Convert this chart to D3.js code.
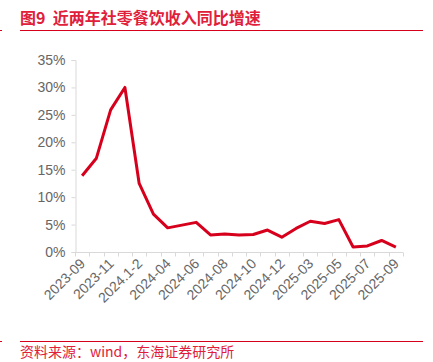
<!DOCTYPE html>
<html>
<head>
<meta charset="utf-8">
<script src="https://cdn.jsdelivr.net/npm/d3@7"></script>
<style>
  body { margin: 0; background: #fff; }
  svg { display: block; font-family: "Liberation Sans", Arial, "Noto Sans CJK SC", sans-serif; }
</style>
</head>
<body>
<div id="container"></div>
<script>
/* CONSTANTS AND GLOBALS */
const width = 433;
const height = 362;

/* DATA */
const months = ["2023-09", "2023-10", "2023-11", "2023-12", "2024.1-2", "2024-03", "2024-04",
  "2024-05", "2024-06", "2024-07", "2024-08", "2024-09", "2024-10", "2024-11", "2024-12",
  "2025.1-2", "2025-03", "2025-04", "2025-05", "2025-06", "2025-07", "2025-08", "2025-09"];
const growth = [13.9, 17.1, 25.9, 30.0, 12.5, 6.9, 4.4, 4.9, 5.4, 3.1, 3.3, 3.1, 3.2,
  4.0, 2.7, 4.3, 5.6, 5.2, 5.9, 0.9, 1.1, 2.1, 0.9];
const yTicks = [0, 5, 10, 15, 20, 25, 30, 35];
const shownLabels = ["2023-09", "2023-11", "2024.1-2", "2024-04", "2024-06", "2024-08",
  "2024-10", "2024-12", "2025-03", "2025-05", "2025-07", "2025-09"];

const red = "#d7001c";
const grey = "#d9d9d9";

const svg = d3.select("#container")
  .append("svg")
  .attr("width", width)
  .attr("height", height);

// title + rules
svg.append("text")
  .attr("x", 20).attr("y", 24)
  .attr("fill", "#e0203a")
  .style("font-size", "16px")
  .style("font-weight", "bold")
  .style("white-space", "pre")
  .style("font-family", "'Noto Sans CJK SC', sans-serif")
  .text("图9  近两年社零餐饮收入同比增速");

svg.append("line")
  .attr("x1", 20).attr("x2", 423).attr("y1", 30.5).attr("y2", 30.5)
  .attr("stroke", red).attr("stroke-width", 1);
svg.append("line")
  .attr("x1", 0).attr("x2", 2).attr("y1", 30.5).attr("y2", 30.5)
  .attr("stroke", red).attr("stroke-width", 1);

svg.append("line")
  .attr("x1", 20).attr("x2", 423).attr("y1", 341.5).attr("y2", 341.5)
  .attr("stroke", red).attr("stroke-width", 1);
svg.append("line")
  .attr("x1", 0).attr("x2", 2).attr("y1", 341.5).attr("y2", 341.5)
  .attr("stroke", red).attr("stroke-width", 1);

svg.append("text")
  .attr("x", 20).attr("y", 357)
  .attr("fill", "#e0203a")
  .style("font-size", "14px")
  .style("font-family", "'Noto Sans CJK SC', sans-serif")
  .text("资料来源：wind，东海证券研究所");

// SCALES
const x = d3.scaleBand()
  .domain(months)
  .range([75, 403]);

const y = d3.scaleLinear()
  .domain([0, 35])
  .range([252, 60]);

// y axis
const yAxis = svg.append("g")
  .attr("transform", "translate(75.5,0)")
  .call(d3.axisLeft(y).tickValues(yTicks).tickSize(4).tickPadding(6)
    .tickFormat(d => d + "%"));
yAxis.selectAll("line, path").attr("stroke", grey);
yAxis.selectAll("text")
  .attr("fill", "#666")
  .style("font-size", "14px");

// x axis (ticks at band boundaries)
const xAxis = svg.append("g")
  .attr("transform", "translate(0,252.5)");
xAxis.append("line")
  .attr("x1", 75).attr("x2", 403)
  .attr("stroke", grey);
xAxis.selectAll(".tk")
  .data(months.concat(["end"]))
  .join("line")
  .attr("class", "tk")
  .attr("x1", (d, i) => Math.round(75 + i * x.step()) + 0.5)
  .attr("x2", (d, i) => Math.round(75 + i * x.step()) + 0.5)
  .attr("y1", 0).attr("y2", 4)
  .attr("stroke", grey);
xAxis.selectAll(".lbl")
  .data(shownLabels)
  .join("text")
  .attr("class", "lbl")
  .attr("transform", d => `translate(${x(d) + x.bandwidth() / 2 + 4},12) rotate(-45)`)
  .attr("text-anchor", "end")
  .attr("fill", "#666")
  .style("font-size", "14px")
  .text(d => d);

// line
const line = d3.line()
  .x((d, i) => x(months[i]) + x.bandwidth() / 2)
  .y(d => y(d));

svg.append("path")
  .datum(growth)
  .attr("fill", "none")
  .attr("stroke", red)
  .attr("stroke-width", 3)
  .attr("stroke-linejoin", "round")
  .attr("d", line);
</script>
</body>
</html>
